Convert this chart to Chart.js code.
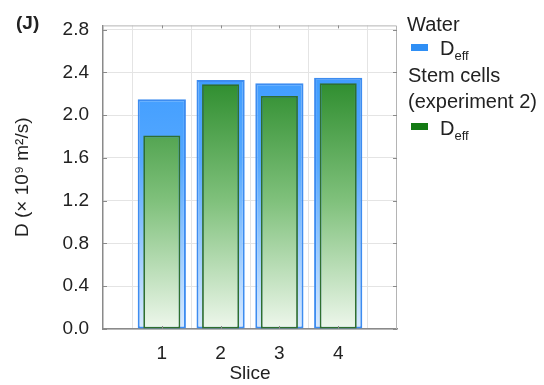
<!DOCTYPE html>
<html>
<head>
<meta charset="utf-8">
<script src="https://cdn.jsdelivr.net/npm/chart.js@4.4.1/dist/chart.umd.min.js"></script>
<style>
  html, body { margin: 0; padding: 0; background: #fff; }
  #wrap { position: relative; width: 544px; height: 385px; font-family: "Liberation Sans", Arial, sans-serif; color: #222; }
  #c { position: absolute; left: 0; top: 0; }
  .t { position: absolute; font-size: 20px; line-height: 22px; white-space: nowrap; }
  .t sub { font-size: 13px; vertical-align: -5px; line-height: 0; }
  .sw { position: absolute; width: 17px; height: 7px; }
</style>
</head>
<body>
<div id="wrap">
  <canvas id="c" width="544" height="385"></canvas>
  <div class="t" style="left:16px; top:12px; font-weight:bold; font-size:19px;">(J)</div>
  <div class="t" style="left:407px; top:13px;">Water</div>
  <div class="sw" style="left:411px; top:44px; background:#2f8ff5;"></div>
  <div class="t" style="left:440px; top:37px;">D<sub>eff</sub></div>
  <div class="t" style="left:408px; top:64px;">Stem cells</div>
  <div class="t" style="left:408px; top:90px;">(experiment 2)</div>
  <div class="sw" style="left:411px; top:123px; background:#137a13;"></div>
  <div class="t" style="left:440px; top:117px;">D<sub>eff</sub></div>
</div>
<script>
const categories = ['', '1', '2', '3', '4', ''];
const waterDeff = [null, 2.15, 2.33, 2.30, 2.35, null];
const stemDeff = [null, 1.81, 2.29, 2.18, 2.30, null];
const yTickValues = [0.0, 0.4, 0.8, 1.2, 1.6, 2.0, 2.4, 2.8];

function blueFill(context) {
  const chart = context.chart;
  const area = chart.chartArea;
  if (!area) return '#3a98ff';
  const g = chart.ctx.createLinearGradient(0, area.bottom, 0, area.top);
  g.addColorStop(0, '#d9eaff');
  g.addColorStop(0.55, '#55a8ff');
  g.addColorStop(1, '#3396ff');
  return g;
}
function greenFill(context) {
  const chart = context.chart;
  const area = chart.chartArea;
  if (!area) return '#2f8f2f';
  const g = chart.ctx.createLinearGradient(0, area.bottom, 0, area.top);
  g.addColorStop(0, '#eef7ec');
  g.addColorStop(0.42, '#80c17c');
  g.addColorStop(0.82, '#2e8d2e');
  g.addColorStop(1, '#2a882a');
  return g;
}

const framePlugin = {
  id: 'frame',
  afterDraw(chart) {
    const { ctx, chartArea: a, scales } = chart;
    ctx.save();
    ctx.strokeStyle = '#b4b4b4';
    ctx.lineWidth = 1;
    ctx.beginPath();
    ctx.moveTo(a.left, a.top + 0.5);
    ctx.lineTo(a.right - 0.5, a.top + 0.5);
    ctx.lineTo(a.right - 0.5, a.bottom);
    ctx.stroke();
    ctx.strokeStyle = '#8a8a8a';
    ctx.beginPath();
    scales.y.ticks.forEach(t => {
      const y = Math.round(scales.y.getPixelForValue(t.value)) + 0.5;
      ctx.moveTo(a.left, y); ctx.lineTo(a.left + 4, y);
      ctx.moveTo(a.right, y); ctx.lineTo(a.right - 4, y);
    });
    scales.x.ticks.forEach((t, i) => {
      if (!categories[i]) return;
      const x = Math.round(scales.x.getPixelForTick(i)) + 0.5;
      ctx.moveTo(x, a.bottom); ctx.lineTo(x, a.bottom - 3);
      ctx.moveTo(x, a.top); ctx.lineTo(x, a.top + 3);
    });
    ctx.stroke();
    ctx.restore();
  }
};

const FONT = 'Liberation Sans, Arial, sans-serif';

new Chart(document.getElementById('c'), {
  type: 'bar',
  data: {
    labels: categories,
    datasets: [
      {
        label: 'Water D_eff',
        data: waterDeff,
        order: 1,
        backgroundColor: blueFill,
        borderColor: '#3d8cf0',
        borderWidth: 2,
        borderSkipped: false,
        barPercentage: 0.82,
        categoryPercentage: 1
      },
      {
        label: 'Stem cells (experiment 2) D_eff',
        data: stemDeff,
        order: 0,
        backgroundColor: greenFill,
        borderColor: '#2f6f2f',
        borderWidth: 1.8,
        borderSkipped: false,
        barPercentage: 0.63,
        categoryPercentage: 1
      }
    ]
  },
  options: {
    responsive: false,
    animation: false,
    maintainAspectRatio: false,
    layout: { padding: { top: 15, right: 147, left: 0, bottom: 0 } },
    datasets: { bar: { grouped: false } },
    plugins: { legend: { display: false }, tooltip: { enabled: false } },
    scales: {
      x: {
        offset: false,
        afterFit(s) { s.height = 56; },
        grid: { color: '#e4e4e4', drawTicks: false },
        border: { color: '#8a8a8a', width: 1.5 },
        ticks: { padding: 13, color: '#222', font: { family: FONT, size: 19 }, maxRotation: 0, autoSkip: false },
        title: { display: true, text: 'Slice', color: '#222', padding: { top: 0, bottom: 0 }, font: { family: FONT, size: 19 } }
      },
      y: {
        min: 0,
        max: 2.84,
        afterFit(s) { s.width = 103; },
        grid: { color: '#e4e4e4', drawTicks: false },
        border: { color: '#8a8a8a', width: 1.5 },
        ticks: {
          stepSize: 0.2,
          includeBounds: false,
          padding: 14,
          color: '#222',
          font: { family: FONT, size: 19 },
          callback(v) {
            const hit = yTickValues.find(t => Math.abs(t - v) < 1e-6);
            return hit === undefined ? '' : hit.toFixed(1);
          }
        },
        title: { display: true, text: 'D (× 10⁹ m²/s)', color: '#222', padding: { top: 11, bottom: 0 }, font: { family: FONT, size: 19 } }
      }
    }
  },
  plugins: [framePlugin]
});
</script>
</body>
</html>
